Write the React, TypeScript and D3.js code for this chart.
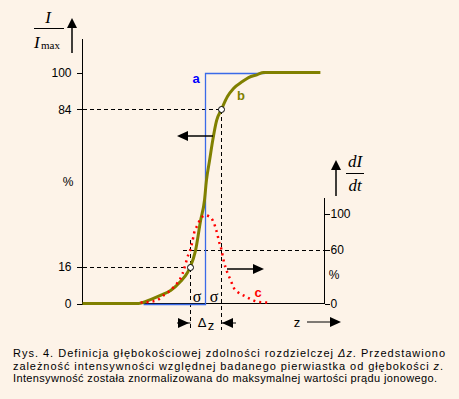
import * as d3 from 'd3'

// depth z (arbitrary units 0-100) and relative intensity I/Imax in %
const zB = [0, 23.1, 28.1, 32.2, 36.4, 40.5, 43.4, 44.6, 46.7, 48.8, 50.4, 51.2, 52.5, 53.8, 55.4, 57.4, 59.9, 62.4, 66.1, 68.6, 72.3, 74.8, 98.3]
const curveB = [0, 0, 1.7, 3.5, 5.6, 9.5, 13.4, 16, 22.9, 35.9, 44.6, 53.2, 61.9, 70.6, 79.2, 84, 89.6, 93.1, 96.1, 97.8, 99.1, 100, 100]

// derivative dI/dt in % (right axis)
const zC = [24, 30.2, 33.5, 37.6, 41.3, 42.6, 43.8, 44.6, 45.5, 46.1, 47.5, 48.8, 50.8, 52.1, 53.7, 55, 55.8, 56.6, 57.4, 58.3, 59.9, 61.2, 62.4, 64.5, 66.5, 68.6, 72.3, 76.9]
const curveC = [1, 3, 9, 18, 33, 44, 55, 60, 70, 78, 87, 94, 98, 97, 93, 84, 76, 67, 60, 48, 34, 26, 18, 12, 9, 6, 2, 1]

// ideal step profile
const zA = [25, 50.8, 50.8, 74.8]
const curveA = [0, 0, 100, 100]

const leftTicks = [0, 16, 84, 100]
const rightTicks = [0, 60, 100]
const sigmaZ = [44.6, 57.4]

const caption = [
  'Rys.  4.  Definicja  głębokościowej  zdolności  rozdzielczej ',
  'zależność  intensywności  względnej  badanego  pierwiastka  od  głębokości ',
  'Intensywność została znormalizowana do maksymalnej wartości prądu jonowego.',
]

const sans = 'Liberation Sans, Arial, sans-serif'
const serif = 'Liberation Serif, Times New Roman, serif'

export default function App() {
  const width = 459
  const height = 399
  const x = d3.scaleLinear().domain([0, 100]).range([82.5, 324.5])
  const yL = d3.scaleLinear().domain([0, 100]).range([303.5, 72.5])
  const yR = d3.scaleLinear().domain([0, 100]).range([303.5, 213.5])

  const lineB = d3
    .line<number>()
    .x((d, i) => x(zB[i]))
    .y((d) => yL(d))
    .curve(d3.curveMonotoneX)
  const lineC = d3
    .line<number>()
    .x((d, i) => x(zC[i]))
    .y((d) => yR(d))
    .curve(d3.curveMonotoneX)
  const lineA = d3
    .line<number>()
    .x((d, i) => Math.round(x(zA[i])) + 0.5)
    .y((d) => Math.round(yL(d)) + 0.5)

  const x0 = x(0)
  const x1 = x(100)
  const y0 = yL(0)
  const s1 = Math.round(x(sigmaZ[0])) + 0.5
  const s2 = Math.round(x(sigmaZ[1])) + 0.5
  const y16 = Math.round(yL(16)) + 0.5
  const y84 = Math.round(yL(84)) + 0.5
  const y60 = Math.round(yR(60)) + 0.5
  const dash = '4 3'

  return (
    <svg
      width={width}
      height={height}
      style={{ position: 'absolute', left: 0, top: 0, background: '#fdf3e8' }}
    >
      <rect width={width} height={height} fill="#fdf3e8" />

      <g shapeRendering="crispEdges">
        {/* left axis */}
        <line x1={x0} x2={x0} y1={39} y2={y0} stroke="#000" />
        {leftTicks.map((t) => (
          <line key={t} x1={x0 - 6} x2={x0} y1={Math.round(yL(t)) + 0.5} y2={Math.round(yL(t)) + 0.5} stroke="#000" />
        ))}
        {/* right axis */}
        <line x1={x1} x2={x1} y1={198} y2={y0} stroke="#000" />
        {rightTicks.map((t) => (
          <line key={t} x1={x1} x2={x1 + 5} y1={Math.round(yR(t)) + 0.5} y2={Math.round(yR(t)) + 0.5} stroke="#000" />
        ))}
        {/* baseline */}
        <line x1={x0} x2={x1} y1={y0} y2={y0} stroke="#000" />

        {/* dashed guides */}
        <line x1={x0} x2={s2} y1={y84} y2={y84} stroke="#000" strokeDasharray={dash} />
        <line x1={x0} x2={s1} y1={y16} y2={y16} stroke="#000" strokeDasharray={dash} />
        <line x1={183} x2={x1} y1={y60} y2={y60} stroke="#000" strokeDasharray={dash} />
        <line x1={s1} x2={s1} y1={240} y2={330} stroke="#000" strokeDasharray={dash} />
        <line x1={s2} x2={s2} y1={y84} y2={330} stroke="#000" strokeDasharray={dash} />
      </g>

      {/* ideal step a */}
      <path d={lineA(curveA) ?? ''} fill="none" stroke="#3a6ae8" strokeWidth={1.3} />

      {leftTicks.map((t) => (
        <text key={t} x={x0 - 11} y={yL(t) + 4.5} textAnchor="end" fontSize={12} fontFamily={sans}>
          {t}
        </text>
      ))}
      <text x={68} y={186} textAnchor="middle" fontSize={12} fontFamily={sans}>%</text>
      {rightTicks.map((t) => (
        <text key={t} x={x1 + 6} y={yR(t) + 4.5} fontSize={12} fontFamily={sans}>
          {t}
        </text>
      ))}
      <text x={334} y={279} textAnchor="middle" fontSize={12} fontFamily={sans}>%</text>

      {/* curves */}
      <path d={lineB(curveB) ?? ''} fill="none" stroke="#808000" strokeWidth={3} />
      <path
        d={lineC(curveC) ?? ''}
        fill="none"
        stroke="#ff0000"
        strokeWidth={2.5}
        strokeDasharray="2 4"
      />

      {/* markers */}
      <circle cx={s1} cy={y16} r={3} fill="#fff" stroke="#000" />
      <circle cx={s2} cy={y84} r={3} fill="#fff" stroke="#000" />

      {/* curve labels */}
      <text x={196} y={83} textAnchor="middle" fontSize={13} fontWeight="bold" fill="#0000ff" fontFamily={sans}>a</text>
      <text x={241} y={100} textAnchor="middle" fontSize={13} fontWeight="bold" fill="#808000" fontFamily={sans}>b</text>
      <text x={258} y={297} textAnchor="middle" fontSize={13} fontWeight="bold" fill="#ff0000" fontFamily={sans}>c</text>
      <text x={197} y={302} textAnchor="middle" fontSize={16} fontFamily={serif}>σ</text>
      <text x={214} y={302} textAnchor="middle" fontSize={16} fontFamily={serif}>σ</text>

      {/* direction arrows */}
      <line x1={187} x2={213} y1={136} y2={136} stroke="#000" strokeWidth={1.5} />
      <path d="M177,136 L188,131 L188,141 Z" fill="#000" />
      <line x1={227} x2={254} y1={269} y2={269} stroke="#000" strokeWidth={1.5} />
      <path d="M264,269 L253,264 L253,274 Z" fill="#000" />

      {/* left axis title */}
      <text x={48} y={23} textAnchor="middle" fontSize={17} fontStyle="italic" fontFamily={serif}>I</text>
      <line x1={34} x2={64} y1={28.5} y2={28.5} stroke="#000" shapeRendering="crispEdges" />
      <text x={34} y={48} fontSize={17} fontStyle="italic" fontFamily={serif}>I</text>
      <text x={41} y={49} fontSize={11} fontFamily={serif}>max</text>
      <line x1={72} x2={72} y1={27} y2={53} stroke="#000" strokeWidth={1.5} />
      <path d="M72,18 L67,28 L77,28 Z" fill="#000" />

      {/* right axis title */}
      <text x={355} y={167} textAnchor="middle" fontSize={17} fontStyle="italic" fontFamily={serif}>dI</text>
      <line x1={346} x2={364} y1={173.5} y2={173.5} stroke="#000" shapeRendering="crispEdges" />
      <text x={355} y={191} textAnchor="middle" fontSize={17} fontStyle="italic" fontFamily={serif}>dt</text>
      <line x1={336} x2={336} y1={168} y2={196} stroke="#000" strokeWidth={1.5} />
      <path d="M336,160 L331,170 L341,170 Z" fill="#000" />

      {/* delta z */}
      <line x1={177} x2={s1} y1={323} y2={323} stroke="#000" />
      <path d="M189,323 L178,318 L178,328 Z" fill="#000" />
      <line x1={s2} x2={236} y1={323} y2={323} stroke="#000" />
      <path d="M222,323 L233,318 L233,328 Z" fill="#000" />
      <text x={202} y={327} textAnchor="middle" fontSize={13} fontFamily={sans}>Δ</text>
      <text x={211} y={330} textAnchor="middle" fontSize={13} fontFamily={sans}>z</text>

      {/* z axis arrow */}
      <text x={297} y={327} textAnchor="middle" fontSize={13} fontFamily={sans}>z</text>
      <line x1={307} x2={331} y1={322} y2={322} stroke="#000" />
      <path d="M341,322 L330,317 L330,327 Z" fill="#000" />

      {/* caption */}
      <text x={13} y={357} fontSize={11} fontFamily={sans} textLength={432} lengthAdjust="spacing">
        {caption[0]}
        <tspan fontStyle="italic">Δz</tspan>. Przedstawiono
      </text>
      <text x={13} y={369.5} fontSize={11} fontFamily={sans} textLength={430} lengthAdjust="spacing">
        {caption[1]}
        <tspan fontStyle="italic">z</tspan>.
      </text>
      <text x={13} y={382} fontSize={11} fontFamily={sans} textLength={424} lengthAdjust="spacing">
        {caption[2]}
      </text>
    </svg>
  )
}
